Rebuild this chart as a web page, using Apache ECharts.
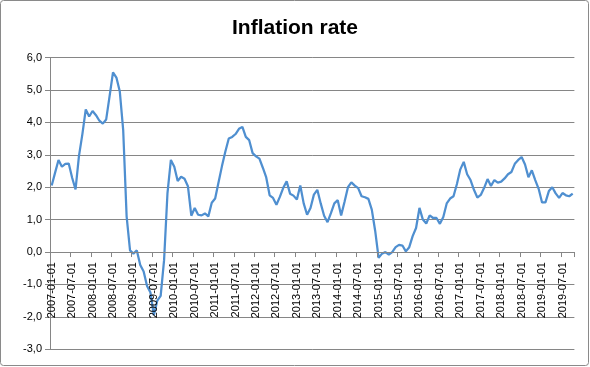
<!DOCTYPE html>
<html>
<head>
<meta charset="utf-8">
<script src="https://cdn.jsdelivr.net/npm/echarts@6/dist/echarts.min.js"></script>
<style>
html,body{margin:0;padding:0;background:#fff;}
#chart{width:590px;height:367px;}
</style>
</head>
<body>
<div id="chart"></div>
<script>
// Monthly inflation rate (%)
var y2007 = [2.05, 2.45, 2.84, 2.63, 2.72, 2.73, 2.29, 1.93, 2.96, 3.63, 4.40, 4.18];
var y2008 = [4.35, 4.22, 4.05, 3.96, 4.09, 4.81, 5.54, 5.38, 4.95, 3.75, 1.10, 0.05];
var y2009 = [-0.05, 0.05, -0.40, -0.60, -1.05, -1.25, -1.95, -1.50, -1.35, -0.25, 1.82, 2.84];
var y2010 = [2.63, 2.19, 2.32, 2.26, 2.03, 1.12, 1.36, 1.15, 1.13, 1.19, 1.10, 1.52];
var y2011 = [1.65, 2.15, 2.65, 3.10, 3.50, 3.55, 3.64, 3.80, 3.86, 3.55, 3.45, 3.05];
var y2012 = [2.95, 2.88, 2.60, 2.30, 1.75, 1.67, 1.46, 1.70, 1.98, 2.18, 1.80, 1.74];
var y2013 = [1.62, 2.05, 1.50, 1.15, 1.36, 1.77, 1.92, 1.50, 1.12, 0.92, 1.20, 1.50];
var y2014 = [1.60, 1.13, 1.55, 2.00, 2.15, 2.05, 1.97, 1.72, 1.69, 1.64, 1.31, 0.65];
var y2015 = [-0.18, -0.05, 0.00, -0.08, 0.00, 0.15, 0.22, 0.20, 0.02, 0.15, 0.49, 0.74];
var y2016 = [1.36, 1.00, 0.88, 1.13, 1.05, 1.05, 0.87, 1.08, 1.50, 1.65, 1.72, 2.10];
var y2017 = [2.55, 2.78, 2.40, 2.22, 1.92, 1.68, 1.76, 1.98, 2.25, 2.04, 2.22, 2.14];
var y2018 = [2.17, 2.27, 2.40, 2.47, 2.72, 2.84, 2.93, 2.70, 2.31, 2.52, 2.22, 1.95];
var y2019 = [1.53, 1.53, 1.88, 2.00, 1.81, 1.67, 1.82, 1.75, 1.72, 1.80];

var years = [2007, 2008, 2009, 2010, 2011, 2012, 2013, 2014, 2015, 2016, 2017, 2018, 2019];
var yearValues = [y2007, y2008, y2009, y2010, y2011, y2012, y2013, y2014, y2015, y2016, y2017, y2018, y2019];

var categories = [];
var values = [];
for (var k = 0; k < years.length; k++) {
  for (var m = 0; m < yearValues[k].length; m++) {
    var mm = (m + 1 < 10 ? '0' : '') + (m + 1);
    categories.push(years[k] + '-' + mm + '-01');
    values.push(yearValues[k][m]);
  }
}

var titleText = 'Inflation rate';
var yMin = -3, yMax = 6, yStep = 1;
var font = 'Liberation Sans, Arial, sans-serif';

var chart = echarts.init(document.getElementById('chart'), null, {renderer: 'canvas'});
var option = {
  animation: false,
  backgroundColor: '#ffffff',
  title: {
    text: titleText,
    left: 'center',
    top: 13,
    textStyle: {fontFamily: font, fontSize: 21, fontWeight: 'bold', color: '#000'}
  },
  graphic: [{
    type: 'rect',
    shape: {x: 0.5, y: 0.5, width: 588, height: 365, r: 3},
    style: {fill: 'none', stroke: '#8a8a8a', lineWidth: 1},
    silent: true
  }],
  grid: {left: 50, right: 15.6, top: 57.5, bottom: 17.7, containLabel: false, outerBoundsMode: 'none'},
  xAxis: {
    type: 'category',
    data: categories,
    boundaryGap: true,
    offset: 0,
    z: 3,
    axisLine: {onZero: false, lineStyle: {color: '#868686', width: 1}},
    axisTick: {show: true, interval: 5, length: 5, inside: false, alignWithLabel: false, lineStyle: {color: '#868686'}},
    axisLabel: {interval: 5, rotate: 90, margin: 10, fontSize: 11, color: '#000', fontFamily: font},
    splitLine: {show: false}
  },
  yAxis: {
    type: 'value',
    min: yMin, max: yMax, interval: yStep,
    axisLine: {show: true, lineStyle: {color: '#868686', width: 1}},
    axisTick: {show: true, length: 5, inside: false, lineStyle: {color: '#868686'}},
    axisLabel: {
      margin: 8, fontSize: 11, color: '#000', fontFamily: font,
      formatter: function (v) { return v.toFixed(1).replace('.', ','); }
    },
    splitLine: {show: true, lineStyle: {color: '#868686', width: 1}}
  },
  series: [{
    type: 'line',
    data: values,
    symbol: 'none',
    smooth: false,
    z: 2,
    lineStyle: {color: '#4f8fd0', width: 2.25},
    itemStyle: {color: '#4f8fd0'}
  }]
};
chart.setOption(option);
// Place the category axis where the value axis crosses zero (Excel style)
var pxZero = chart.convertToPixel({yAxisIndex: 0}, 0);
var pxMin = chart.convertToPixel({yAxisIndex: 0}, yMin);
chart.setOption({xAxis: {offset: pxZero - pxMin}});
</script>
</body>
</html>
